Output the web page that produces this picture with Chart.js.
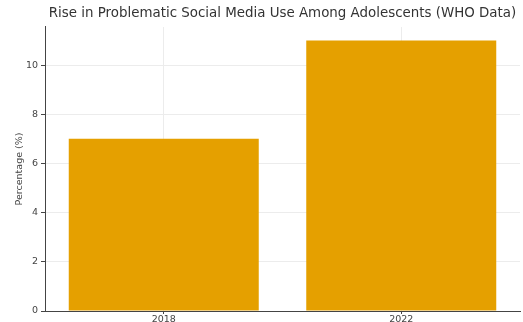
<!DOCTYPE html>
<html><head><meta charset="utf-8">
<script src="https://cdn.jsdelivr.net/npm/chart.js@4/dist/chart.umd.min.js"></script>
<style>html,body{margin:0;padding:0;background:#fff}#wrap{width:523px;height:322px}</style>
</head><body><div id="wrap"><canvas id="c" width="523" height="322"></canvas></div>
<script>
const categories = ['2018', '2022'];
const percentages = [7, 11];
const yTicks = [0, 2, 4, 6, 8, 10];
const titleText = 'Rise in Problematic Social Media Use Among Adolescents (WHO Data)';
const yTitle = 'Percentage (%)';

const font = 'DejaVu Sans';
new Chart(document.getElementById('c'), {
  type: 'bar',
  data: { labels: categories, datasets: [{ data: percentages, backgroundColor: '#e5a000', barPercentage: 0.8, categoryPercentage: 1.0 }] },
  options: {
    responsive: false, animation: false, devicePixelRatio: 1,
    layout: { padding: { left: 14, right: 3, top: 0, bottom: 0 } },
    plugins: {
      legend: { display: false }, tooltip: { enabled: false },
      title: { display: true, text: titleText, fullSize: false, color: '#333',
        font: { family: font, size: 13.4, weight: 'normal' }, padding: { top: 5, bottom: 5.9 } }
    },
    scales: {
      x: {
        grid: { offset: false, color: '#ececec', tickLength: 3, tickColor: '#444' },
        border: { color: '#444', width: 1 },
        ticks: { color: '#444', font: { family: font, size: 9.5 }, padding: 0 },
        afterFit: s => { s.height = 11; }
      },
      y: {
        min: 0, max: 11.55,
        afterBuildTicks: s => { s.ticks = yTicks.map(v => ({ value: v })); },
        grid: { color: '#ececec', tickLength: 4, tickColor: '#444' },
        border: { color: '#444', width: 1 },
        ticks: { color: '#444', font: { family: font, size: 9.5 }, padding: 3 },
        title: { display: true, text: yTitle, color: '#444', font: { family: font, size: 9.5 }, padding: 0 },
        afterFit: s => { s.width = 31; }
      }
    }
  }
});
</script></body></html>
